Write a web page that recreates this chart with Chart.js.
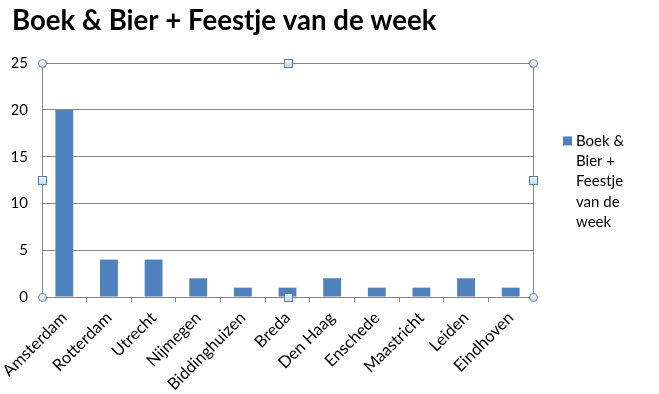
<!DOCTYPE html>
<html>
<head>
<meta charset="utf-8">
<script src="https://cdn.jsdelivr.net/npm/chart.js@4/dist/chart.umd.min.js"></script>
<style>
  html, body { margin: 0; padding: 0; background: #fff; }
  #wrap { width: 659px; height: 394px; }
</style>
</head>
<body>
<div id="wrap"><canvas id="myChart" width="659" height="394"></canvas></div>
<script>
// data
const cities = ["Amsterdam", "Rotterdam", "Utrecht", "Nijmegen", "Biddinghuizen", "Breda",
  "Den Haag", "Enschede", "Maastricht", "Leiden", "Eindhoven"];
const counts = [20, 4, 4, 2, 1, 1, 2, 1, 1, 2, 1];
const seriesName = "Boek & Bier + Feestje van de week";
const legendLines = ["Boek &", "Bier +", "Feestje", "van de", "week"];
const yTicks = [0, 5, 10, 15, 20, 25];

const barColor = "#4F81BD";
const gridColor = "#868686";
const font = "Lato";

// right border of the plot area, the wrapped legend and the selection handles
const extras = {
  id: "extras",
  afterDraw(chart) {
    const ctx = chart.ctx;
    const a = chart.chartArea;
    ctx.save();
    ctx.strokeStyle = gridColor;
    ctx.lineWidth = 1;
    ctx.beginPath();
    ctx.moveTo(Math.round(a.right) + 0.5, a.top);
    ctx.lineTo(Math.round(a.right) + 0.5, a.bottom);
    ctx.stroke();

    // legend
    const midY = (a.top + a.bottom) / 2;
    const lh = 20.3;
    const y0 = midY + 1.5 - lh * (legendLines.length - 1) / 2;
    ctx.fillStyle = barColor;
    ctx.fillRect(a.right + 30, y0 - 4.5, 9, 9);
    ctx.fillStyle = "#000";
    ctx.font = "15px " + font;
    ctx.textBaseline = "middle";
    ctx.textAlign = "left";
    legendLines.forEach((t, i) => ctx.fillText(t, a.right + 43, y0 + i * lh));

    // handles
    const cx = (a.left + a.right) / 2;
    const cy = (a.top + a.bottom) / 2;
    const circles = [[a.left, a.top], [a.right, a.top], [a.left, a.bottom], [a.right, a.bottom]];
    const squares = [[cx, a.top], [cx, a.bottom], [a.left, cy], [a.right, cy]];
    circles.forEach(([x, y]) => {
      const g = ctx.createLinearGradient(x, y - 4, x, y + 4);
      g.addColorStop(0, "#FFFFFF");
      g.addColorStop(1, "#C9D9EA");
      ctx.beginPath();
      ctx.arc(Math.round(x) + 0.5, Math.round(y) + 0.5, 4, 0, Math.PI * 2);
      ctx.fillStyle = g;
      ctx.fill();
      ctx.strokeStyle = "#6A86A6";
      ctx.stroke();
    });
    squares.forEach(([x, y]) => {
      const g = ctx.createLinearGradient(x, y - 4, x, y + 4);
      g.addColorStop(0, "#F2F7FC");
      g.addColorStop(1, "#C5DAEE");
      ctx.fillStyle = g;
      ctx.fillRect(Math.round(x) - 3.5, Math.round(y) - 3.5, 8, 8);
      ctx.strokeStyle = "#5B7EA6";
      ctx.strokeRect(Math.round(x) - 3.5, Math.round(y) - 3.5, 8, 8);
    });
    ctx.restore();
  }
};

const ctx = document.querySelector("#myChart").getContext("2d");

new Chart(ctx, {
  type: "bar",
  data: {
    labels: cities,
    datasets: [
      {
        label: seriesName,
        data: counts,
        backgroundColor: barColor,
        borderWidth: 0,
        barPercentage: 0.4,
        categoryPercentage: 1,
      },
    ],
  },
  options: {
    responsive: false,
    animation: false,
    layout: { padding: { left: 12, right: 126, top: 5, bottom: 0 } },
    plugins: {
      legend: { display: false },
      tooltip: { enabled: false },
      title: {
        display: true,
        text: seriesName,
        align: "start",
        color: "#000",
        font: { family: font, size: 27.6, weight: "bold" },
        padding: { top: 0, bottom: 25 },
      },
    },
    scales: {
      x: {
        offset: true,
        grid: {
          offset: true,
          drawOnChartArea: false,
          drawTicks: true,
          tickLength: 5,
          color: gridColor,
        },
        border: { color: gridColor },
        ticks: {
          color: "#000",
          font: { family: font, size: 16.5 },
          minRotation: 45,
          maxRotation: 45,
          autoSkip: false,
          padding: 6,
        },
        afterFit: (s) => {
          s.paddingLeft = 0;
          s.paddingRight = 0;
          s.height = 97;
        },
      },
      y: {
        min: 0,
        max: 25,
        afterBuildTicks: (axis) => {
          axis.ticks = yTicks.map((v) => ({ value: v }));
        },
        grid: { color: gridColor, drawTicks: false },
        border: { color: gridColor },
        ticks: {
          color: "#000",
          font: { family: font, size: 15 },
          padding: 14,
        },
        afterFit: (s) => {
          s.width = 30;
        },
      },
    },
  },
  plugins: [extras],
});
</script>
</body>
</html>
